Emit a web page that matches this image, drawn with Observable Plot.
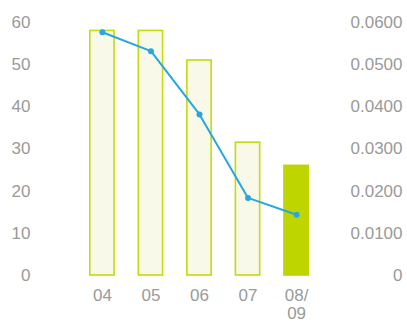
<!DOCTYPE html>
<html>
<head>
<meta charset="utf-8">
<script src="https://cdn.jsdelivr.net/npm/d3@7"></script>
<script src="https://cdn.jsdelivr.net/npm/@observablehq/plot@0.6"></script>
<style>
  html, body { margin: 0; padding: 0; background: #fff; }
  svg { display: block; }
</style>
</head>
<body>
<div id="chart"></div>
<script>
const categories = ["04", "05", "06", "07", "08/09"];
const barValues = [58, 58, 51, 31.5, 26];
const rateValues = [0.0577, 0.0532, 0.0382, 0.0184, 0.0144];
const leftTicks = [0, 10, 20, 30, 40, 50, 60];
const rightTickLabels = ["0", "0.0100", "0.0200", "0.0300", "0.0400", "0.0500", "0.0600"];

const ratio = 60 / 0.06; // right axis maps 0..0.06 onto 0..60
const bars = categories.map((c, i) => ({cat: c, value: barValues[i], highlight: i === categories.length - 1}));
const rates = categories.map((c, i) => ({cat: c, rate: rateValues[i]}));

const textColor = "#9a9a9a";
const chart = Plot.plot({
  width: 407,
  height: 327,
  marginLeft: 65.5,
  marginRight: 74.5,
  marginTop: 22,
  marginBottom: 52,
  style: {fontFamily: "'Liberation Sans', Arial, sans-serif", fontSize: "17px", color: textColor, background: "#fff"},
  x: {domain: categories, padding: 0.5, round: false, label: null},
  y: {domain: [0, 60], label: null},
  marks: [
    Plot.barY(bars, {
      x: "cat", y: "value",
      fill: d => d.highlight ? "#bfd500" : "#f8f9e9",
      stroke: d => d.highlight ? "#bfd500" : "#c6da0c",
      strokeWidth: 1.6
    }),
    Plot.line(rates, {x: "cat", y: d => d.rate * ratio, stroke: "#27a7de", strokeWidth: 2}),
    Plot.dot(rates, {x: "cat", y: d => d.rate * ratio, r: 3, fill: "#27a7de"}),
    Plot.axisY(leftTicks, {anchor: "left", tickSize: 0, tickPadding: 35.5, label: null, fill: textColor}),
    Plot.axisY(leftTicks, {anchor: "right", tickSize: 0, tickPadding: 69.5, textAnchor: "end", label: null, fill: textColor,
      tickFormat: (d, i) => rightTickLabels[leftTicks.indexOf(d)]}),
    Plot.axisX({tickSize: 0, tickPadding: 12, label: null, fill: textColor, lineHeight: 1.1,
      tickFormat: d => d.replace("/", "/\n")})
  ]
});
document.getElementById("chart").appendChild(chart);
</script>
</body>
</html>
